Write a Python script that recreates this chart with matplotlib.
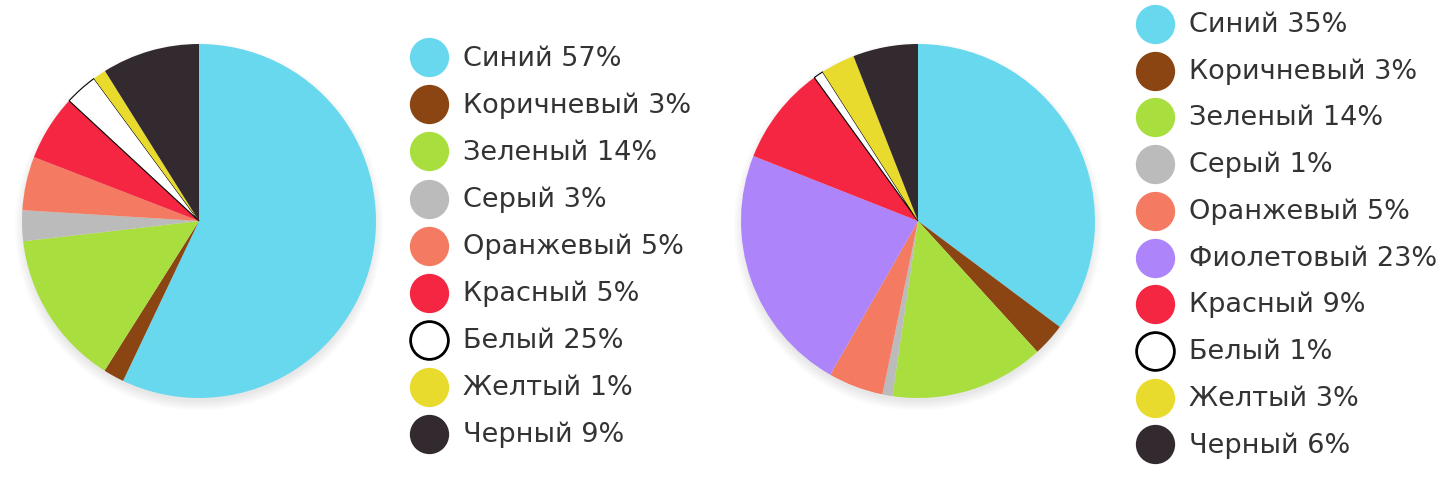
import matplotlib
matplotlib.use("Agg")
from matplotlib import pyplot as plt
from matplotlib.patches import Circle

# left chart: slice sizes, labels as printed
left_names = ["Синий 57%", "Коричневый 3%", "Зеленый 14%", "Серый 3%", "Оранжевый 5%",
              "Красный 5%", "Белый 25%", "Желтый 1%", "Черный 9%"]
left_values = [57.0, 1.9, 14.2, 2.8, 4.9, 6.0, 3.0, 1.2, 8.9]
left_colors = ["#68d8ee", "#8a4513", "#a8df3f", "#bbbbbb", "#f47b62",
               "#f42642", "#ffffff", "#e9db2e", "#322a2e"]

# right chart
right_names = ["Синий 35%", "Коричневый 3%", "Зеленый 14%", "Серый 1%", "Оранжевый 5%",
               "Фиолетовый 23%", "Красный 9%", "Белый 1%", "Желтый 3%", "Черный 6%"]
right_values = [35.0, 3.0, 14.0, 0.9, 5.0, 22.6, 9.0, 0.9, 3.1, 5.9]
right_colors = ["#68d8ee", "#8a4513", "#a8df3f", "#bbbbbb", "#f47b62",
                "#ae84fa", "#f42642", "#ffffff", "#e9db2e", "#322a2e"]

W, H = 1438, 490
fig = plt.figure(figsize=(W / 100, H / 100), dpi=100)
fig.patch.set_facecolor("white")


def pie_axes(cx, cy, r):
    ax = fig.add_axes([(cx - r) / W, (H - cy - r) / H, 2 * r / W, 2 * r / H])
    ax.set_xlim(-1, 1)
    ax.set_ylim(-1, 1)
    ax.set_aspect("equal")
    ax.axis("off")
    return ax


def draw_pie(ax, values, colors):
    # soft drop shadow, mostly under the bottom edge
    for k in range(6):
        ax.add_patch(Circle((0.0, -0.03), 0.99 + 0.01 * k, color="black",
                            alpha=0.014, lw=0, zorder=0, clip_on=False))
    wedges, _ = ax.pie(values, colors=colors, startangle=90, counterclock=False,
                       radius=1.0, wedgeprops=dict(linewidth=0))
    for w, c in zip(wedges, colors):
        w.set_zorder(2)
        if c == "#ffffff":
            w.set_edgecolor("black")
            w.set_linewidth(0.8)
    ax.set_xlim(-1, 1)
    ax.set_ylim(-1, 1)


draw_pie(pie_axes(199, 221, 177), left_values, left_colors)
draw_pie(pie_axes(918, 221, 177), right_values, right_colors)

# legends drawn in pixel coordinates
lg = fig.add_axes([0, 0, 1, 1], zorder=5)
lg.set_xlim(0, W)
lg.set_ylim(H, 0)
lg.axis("off")
lg.patch.set_alpha(0)


def legend(x0, y0, step, names, colors):
    for i, (n, c) in enumerate(zip(names, colors)):
        y = y0 + i * step
        if c == "#ffffff":
            lg.scatter([x0], [y], s=740, facecolor="white", edgecolor="black", linewidth=2.0)
        else:
            lg.scatter([x0], [y], s=800, color=c, linewidth=0)
        lg.text(x0 + 34, y + 1, n, fontsize=19.5, color="#333333", va="center", ha="left",
                family="DejaVu Sans")


legend(429, 57.5, 47.0, left_names, left_colors)
legend(1155, 24, 46.7, right_names, right_colors)

fig.savefig("out.png", dpi=100, facecolor="white")
